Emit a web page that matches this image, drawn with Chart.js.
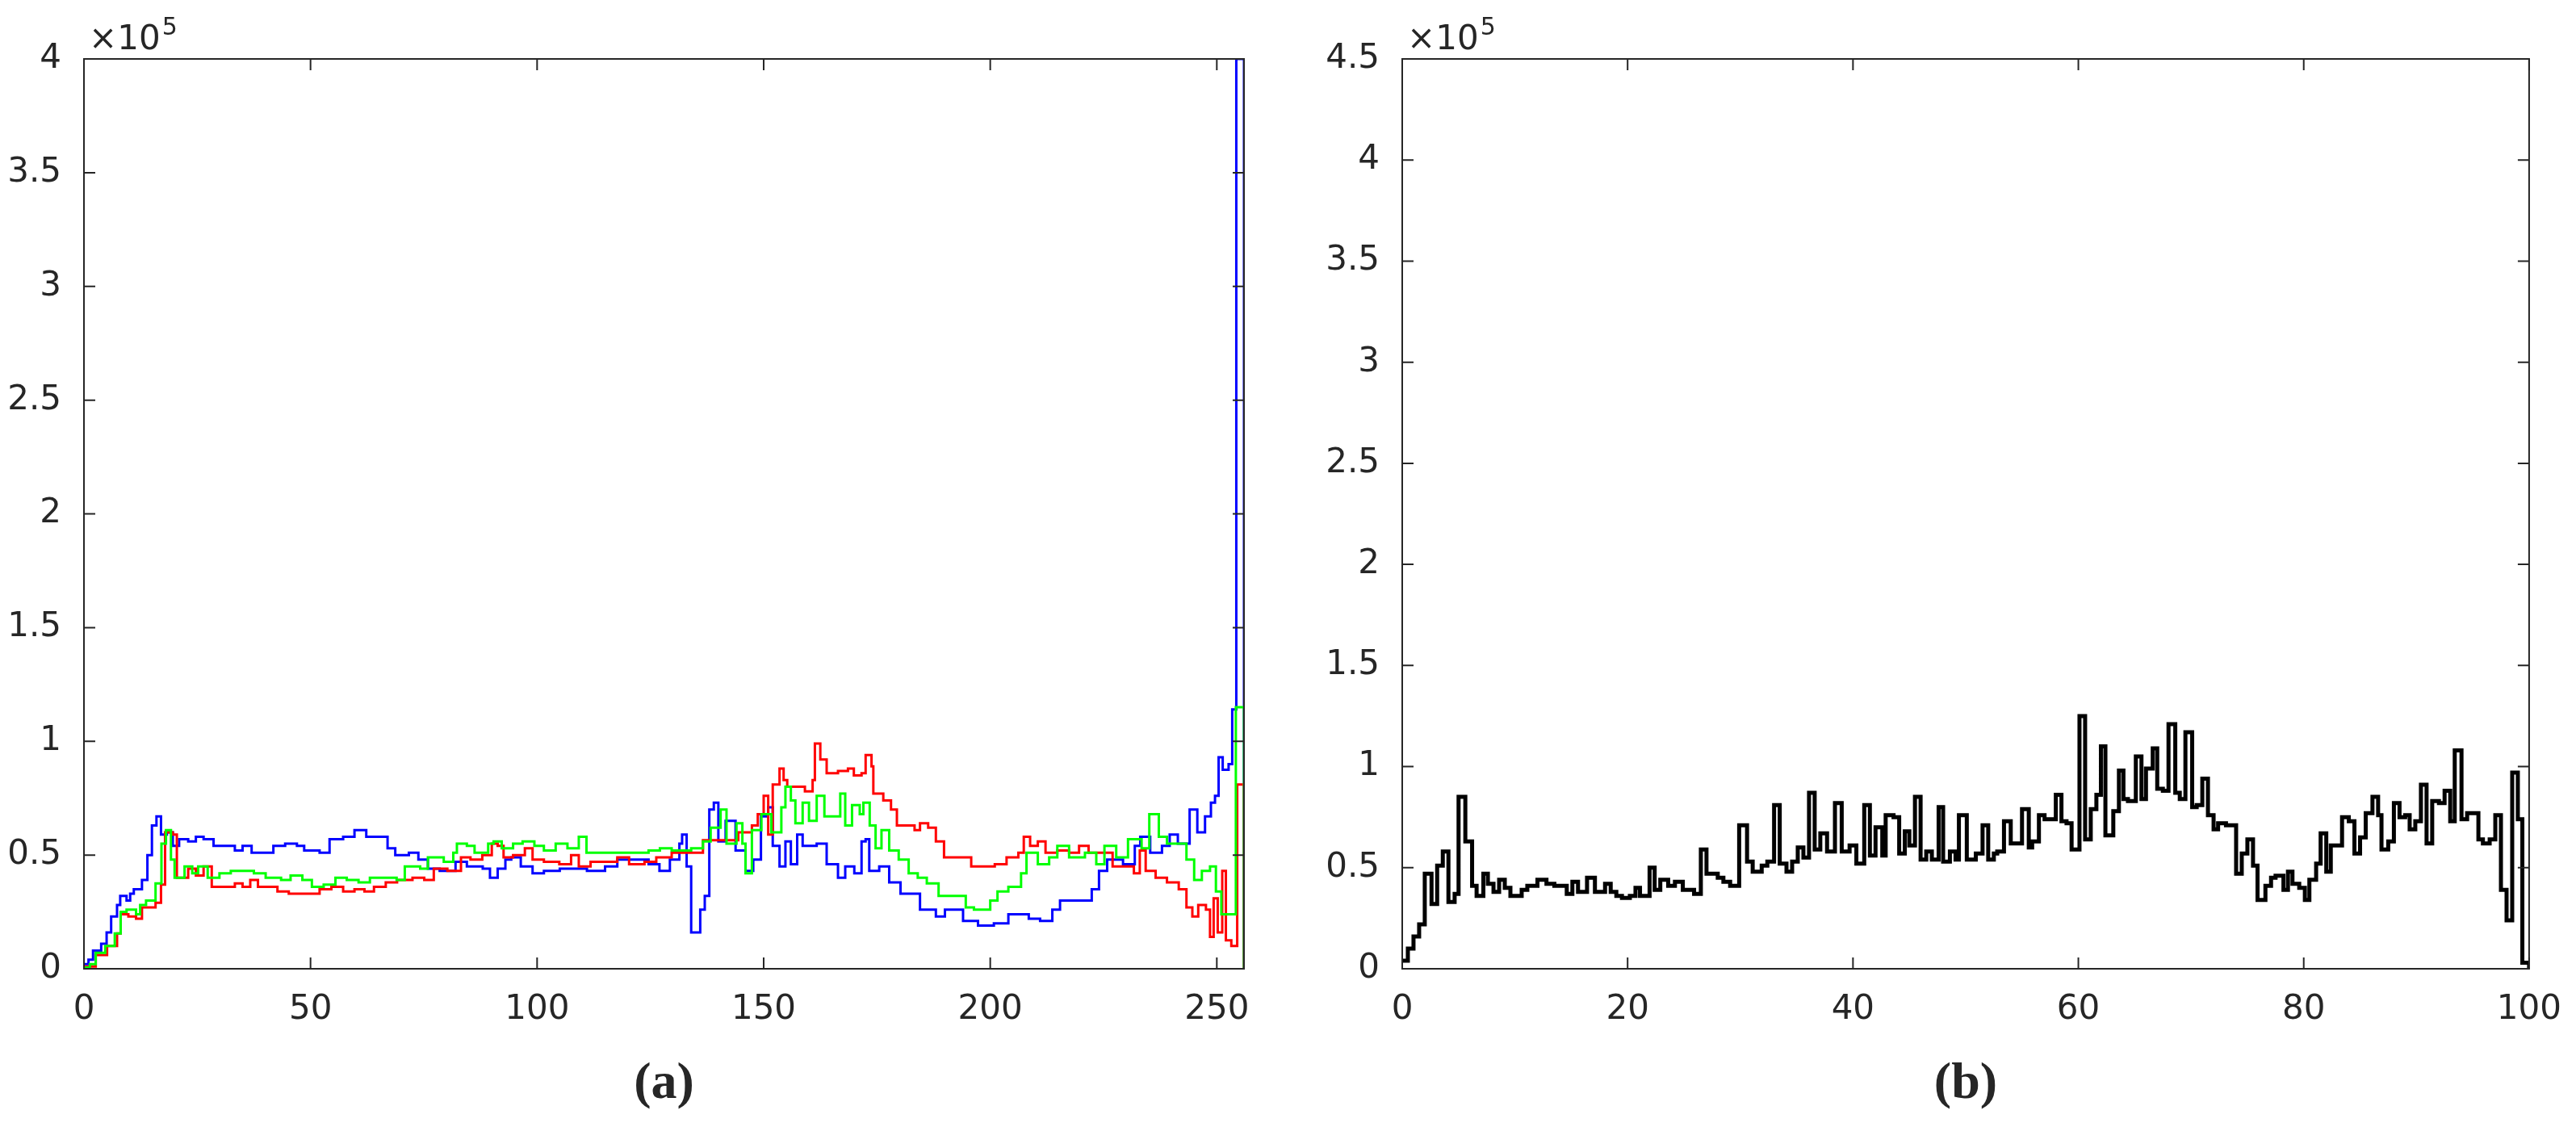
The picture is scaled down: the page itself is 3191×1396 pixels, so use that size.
<!DOCTYPE html>
<html><head><meta charset="utf-8">
<script src="https://cdn.jsdelivr.net/npm/chart.js@4"></script>
<style>body{margin:0;background:#fff;width:3191px;height:1396px;overflow:hidden;position:relative}canvas{position:absolute;top:0}</style>
</head><body>
<canvas id="ca" width="1600" height="1396" style="left:0"></canvas>
<canvas id="cb" width="1591" height="1396" style="left:1600px"></canvas>
<script>
// values in units of 1e5; x = left edge of each histogram step
const blueX=[0,1,2,3.8,5,6,7.3,8,9.4,10.2,11,12.8,14,15,16,17,18.3,19.6,21,23,24.7,26.4,28.6,31,33.3,35,37,39,41.8,44.4,47,48.6,52,54.2,57.2,59.7,62.3,64.8,67,68.7,71.7,73.8,75.9,78.5,82,84.5,88,89.6,91.3,93,94.3,96.4,99,101.5,105,111,115,117.7,121,124.6,127,129.3,131.4,132,133,134,136,137,138,139,140,141.6,143.8,146,147.7,149.4,151,152,153.5,154.8,156,157.4,158.6,161.7,163.9,166.4,168,170,171.6,172.5,173.3,175.5,177.7,180.2,182.4,184.5,188,190,194,197.3,200.8,204,208.5,211,213.7,215.4,219.8,222.4,224,225.8,229.3,231.9,233.1,235.3,237.9,239.6,241.4,244,245.7,247.4,248.7,249.6,250.4,251.3,252.6,253.4,254.3,256];
const blueY=[0.02,0.04,0.08,0.11,0.16,0.23,0.28,0.32,0.30,0.33,0.35,0.39,0.50,0.63,0.67,0.59,0.60,0.54,0.57,0.56,0.58,0.57,0.54,0.54,0.52,0.54,0.51,0.51,0.54,0.55,0.54,0.52,0.51,0.57,0.58,0.61,0.58,0.58,0.53,0.50,0.51,0.48,0.44,0.43,0.47,0.45,0.44,0.40,0.44,0.48,0.49,0.45,0.42,0.43,0.44,0.43,0.45,0.48,0.48,0.46,0.43,0.48,0.55,0.59,0.45,0.16,0.26,0.32,0.70,0.73,0.56,0.65,0.52,0.43,0.48,0.67,0.71,0.54,0.45,0.56,0.46,0.59,0.54,0.55,0.46,0.40,0.45,0.42,0.56,0.57,0.43,0.45,0.38,0.33,0.33,0.26,0.23,0.26,0.21,0.19,0.20,0.24,0.22,0.21,0.26,0.30,0.30,0.35,0.43,0.48,0.46,0.54,0.58,0.51,0.54,0.59,0.55,0.70,0.60,0.67,0.73,0.76,0.93,0.875,0.90,1.14,4.0,0];
const redX=[0,2.6,5.1,7.3,8.1,9.8,11.5,12.8,15.8,17,17.9,19.6,20.5,23,24.7,26.4,28.2,33.3,35,36.7,38.4,42.7,45.2,52,54.6,57.2,59.7,61.9,64,66.6,69.1,72.5,75.1,77.2,80.2,83.2,85.3,87.9,90,91.3,92.6,94.7,97.3,99,101.5,104.9,107.5,109.2,111.8,117.7,120.3,123.7,126.3,129.7,134,136.6,144.4,147.4,148.7,150,151,152,153.5,154.4,155.2,159.1,160.8,161.3,162.5,163.9,166.4,168.6,169.9,171.6,172.5,173.8,174.2,176.4,178.1,179.4,183.3,184.5,186.3,188,189.8,193.2,195.8,201,203.6,206.2,207.4,208.8,210.5,212.2,214.8,217.4,219.6,221.7,227,231.7,233,234.3,236.5,239,241.6,243.3,244.6,245.9,247.6,248.5,249.3,250.2,251.2,252,253.2,254.5,256];
const redY=[0.01,0.06,0.10,0.155,0.24,0.23,0.22,0.27,0.29,0.37,0.60,0.59,0.40,0.44,0.41,0.45,0.36,0.375,0.36,0.39,0.36,0.34,0.33,0.35,0.36,0.34,0.35,0.34,0.36,0.38,0.39,0.40,0.39,0.44,0.43,0.49,0.48,0.50,0.55,0.54,0.49,0.50,0.53,0.48,0.47,0.46,0.50,0.45,0.47,0.49,0.46,0.47,0.49,0.51,0.51,0.565,0.60,0.63,0.68,0.76,0.59,0.81,0.88,0.83,0.80,0.78,0.83,0.99,0.92,0.86,0.87,0.88,0.85,0.86,0.94,0.89,0.77,0.74,0.70,0.63,0.61,0.64,0.62,0.56,0.49,0.49,0.45,0.46,0.49,0.51,0.58,0.54,0.56,0.51,0.52,0.51,0.54,0.51,0.45,0.42,0.52,0.43,0.40,0.38,0.35,0.27,0.23,0.28,0.26,0.14,0.31,0.16,0.43,0.125,0.10,0.81,0];
const greenX=[0,1.3,2.6,4.7,6.8,8.1,9.4,11.5,12.4,13.7,15.8,17.1,18.1,19.2,20,22.2,23.9,25.2,27.3,29.9,32.4,37.5,40.1,43.5,45.6,48.2,50.3,52.9,55.5,58,60.6,63.1,69,70.8,74.2,75.9,79.4,81.5,82.3,84.5,86.2,89.2,90.4,92.2,94.7,96.8,99.4,101.5,104.1,106.7,109.2,110.9,124.6,127.1,129.7,134,136.6,138.3,140.5,141.8,144,145.3,146,147.4,149.5,151.7,153.9,154.8,156,157,158.6,160,161.7,163.4,166.9,168,169.5,171.2,172,173.4,174.7,176,177.7,179.8,182,184,186,188.6,194.6,196.4,200,201.6,204,206.8,208,210.5,213,214.8,217.4,220.9,223.4,225.2,227.8,230.4,233.4,235.1,237.2,239,243.3,245,246.7,248.5,249.8,251,254.2,256];
const greenY=[0.005,0.02,0.07,0.10,0.155,0.25,0.26,0.24,0.28,0.30,0.375,0.55,0.61,0.48,0.40,0.45,0.42,0.45,0.40,0.42,0.43,0.42,0.40,0.39,0.41,0.39,0.36,0.37,0.40,0.39,0.38,0.40,0.39,0.45,0.44,0.49,0.47,0.51,0.55,0.54,0.51,0.55,0.56,0.53,0.55,0.56,0.54,0.52,0.55,0.53,0.58,0.51,0.52,0.53,0.52,0.53,0.56,0.62,0.70,0.55,0.64,0.55,0.42,0.61,0.68,0.60,0.71,0.80,0.74,0.64,0.73,0.65,0.76,0.67,0.77,0.63,0.72,0.68,0.73,0.63,0.53,0.61,0.52,0.48,0.42,0.40,0.375,0.32,0.27,0.26,0.30,0.34,0.36,0.42,0.51,0.46,0.49,0.54,0.49,0.51,0.46,0.54,0.49,0.57,0.53,0.68,0.58,0.55,0.48,0.39,0.43,0.45,0.34,0.24,1.15,0];
const blackX=[0,0.5,1,1.5,2,2.6,3.1,3.6,4.1,4.65,5,5.6,6.2,6.6,7.2,7.6,8.1,8.6,9.1,9.6,10.6,11.1,12,12.8,13.5,14.6,15.1,15.6,16.4,17.1,18,18.5,19,19.5,20.2,20.7,21.1,21.95,22.4,22.9,23.6,24.2,24.9,25.9,26.5,27,28,28.5,29.1,29.9,30.6,31.1,31.9,32.4,33,33.5,34.1,34.6,35.1,35.6,36.1,36.6,37.1,37.7,38.4,39,39.7,40.3,41,41.5,42,42.6,42.9,43.6,44.1,44.6,45,45.5,46,46.5,47,47.6,48,48.6,49.1,49.4,50.1,50.9,51.5,52,52.5,52.8,53.4,54,55,55.6,55.9,56.5,57,58,58.5,58.95,59.4,60.1,60.6,61.1,61.6,62,62.4,63.1,63.6,64,64.4,65.1,65.6,66,66.6,67,67.5,68,68.6,69,69.5,70.1,70.5,71,71.5,72,72.4,73.1,74,74.5,75,75.5,75.9,76.6,77.1,77.5,78.2,78.6,79,79.6,80.1,80.5,81.1,81.5,82,82.4,83.4,84,84.5,85,85.5,86.1,86.6,86.9,87.5,88,88.5,89,89.4,89.9,90.4,90.9,91.4,92,92.5,93,93.4,94,94.5,95.5,95.9,96.5,97,97.5,98,98.5,99,99.4,100];
const blackY=[0.04,0.10,0.16,0.22,0.47,0.32,0.51,0.58,0.33,0.37,0.85,0.63,0.41,0.36,0.47,0.42,0.38,0.44,0.40,0.36,0.39,0.41,0.44,0.42,0.41,0.37,0.43,0.38,0.45,0.38,0.42,0.38,0.36,0.35,0.36,0.40,0.36,0.50,0.39,0.44,0.41,0.43,0.39,0.37,0.59,0.47,0.45,0.43,0.41,0.71,0.53,0.48,0.51,0.53,0.81,0.52,0.48,0.53,0.60,0.55,0.87,0.59,0.67,0.58,0.82,0.58,0.61,0.52,0.81,0.56,0.70,0.56,0.76,0.75,0.57,0.68,0.61,0.85,0.54,0.58,0.54,0.80,0.53,0.58,0.54,0.76,0.54,0.57,0.71,0.54,0.57,0.58,0.73,0.62,0.79,0.60,0.63,0.76,0.74,0.86,0.73,0.72,0.59,1.25,0.64,0.79,0.86,1.10,0.66,0.78,0.98,0.84,0.83,1.05,0.84,0.99,1.09,0.89,0.88,1.21,0.87,0.84,1.17,0.80,0.81,0.94,0.76,0.69,0.72,0.71,0.47,0.57,0.64,0.51,0.34,0.41,0.45,0.46,0.39,0.48,0.42,0.40,0.34,0.44,0.52,0.67,0.48,0.61,0.75,0.73,0.57,0.65,0.77,0.85,0.76,0.59,0.63,0.82,0.75,0.76,0.69,0.73,0.91,0.62,0.83,0.82,0.88,0.73,1.08,0.74,0.77,0.64,0.62,0.64,0.76,0.39,0.24,0.97,0.74,0.03,0];
const leftYTicks=[0,0.5,1,1.5,2,2.5,3,3.5,4];
const rightYTicks=[0,0.5,1,1.5,2,2.5,3,3.5,4,4.5];
const leftXTicks=[0,50,100,150,200,250];
const rightXTicks=[0,20,40,60,80,100];

const INK='#262626';
const pts=(xs,ys)=>xs.map((x,i)=>({x:x,y:ys[i]}));
function ds(xs,ys,color,w){return {data:pts(xs,ys),borderColor:color,borderWidth:w,pointRadius:0,stepped:true,fill:false,tension:0};}

const frame={id:'frame',afterDraw(c){
  const o=c.options.plugins.frame, a=c.chartArea, g=c.ctx, xs=c.scales.x, ys=c.scales.y;
  g.save();g.strokeStyle=INK;g.lineWidth=2;
  g.strokeRect(a.left,a.top,a.right-a.left,a.bottom-a.top);
  const L=14;g.beginPath();
  o.xt.forEach(v=>{const p=xs.getPixelForValue(v);g.moveTo(p,a.bottom);g.lineTo(p,a.bottom-L);g.moveTo(p,a.top);g.lineTo(p,a.top+L);});
  o.yt.forEach(v=>{const p=ys.getPixelForValue(v);g.moveTo(a.left,p);g.lineTo(a.left+L,p);g.moveTo(a.right,p);g.lineTo(a.right-L,p);});
  g.stroke();
  g.fillStyle=INK;g.textBaseline='alphabetic';g.textAlign='left';
  g.font='42px "DejaVu Sans"';g.fillText('×10',a.left+6,a.top-12);
  const w=g.measureText('×10').width;g.font='30px "DejaVu Sans"';g.fillText('5',a.left+6+w+2,a.top-30);
  g.font='bold 64px "Liberation Serif"';g.textAlign='center';g.textBaseline='middle';
  g.fillText(o.label,(a.left+a.right)/2,1343);
  g.restore();}};

function make(id,datasets,xmax,ymax,xt,yt,yw,rp,label){
  new Chart(document.getElementById(id),{type:'line',data:{datasets},
  options:{responsive:false,animation:false,devicePixelRatio:1,
   layout:{padding:{top:73,right:rp,left:0,bottom:0}},
   plugins:{legend:{display:false},tooltip:{enabled:false},frame:{xt,yt,label}},
   scales:{
    x:{type:'linear',min:0,max:xmax,afterBuildTicks:s=>{s.ticks=xt.map(v=>({value:v}));},
       afterFit:s=>{s.height=196;},grid:{display:false},border:{display:false},
       ticks:{color:INK,font:{family:'DejaVu Sans',size:42},padding:18,maxRotation:0,autoSkip:false}},
    y:{type:'linear',min:0,max:ymax,afterBuildTicks:s=>{s.ticks=yt.map(v=>({value:v}));},
       afterFit:s=>{s.width=yw;},grid:{display:false},border:{display:false},
       ticks:{color:INK,font:{family:'DejaVu Sans',size:42},padding:20,callback:v=>String(v)}}}},
  plugins:[frame]});
}
make('ca',[ds(greenX,greenY,'#00ff00',3),ds(redX,redY,'#ff0000',3),ds(blueX,blueY,'#0000ff',3)],256,4,leftXTicks,leftYTicks,104,59,'(a)');
make('cb',[ds(blackX,blackY,'#000000',5)],100,4.5,rightXTicks,rightYTicks,137,47,'(b)');
</script></body></html>
